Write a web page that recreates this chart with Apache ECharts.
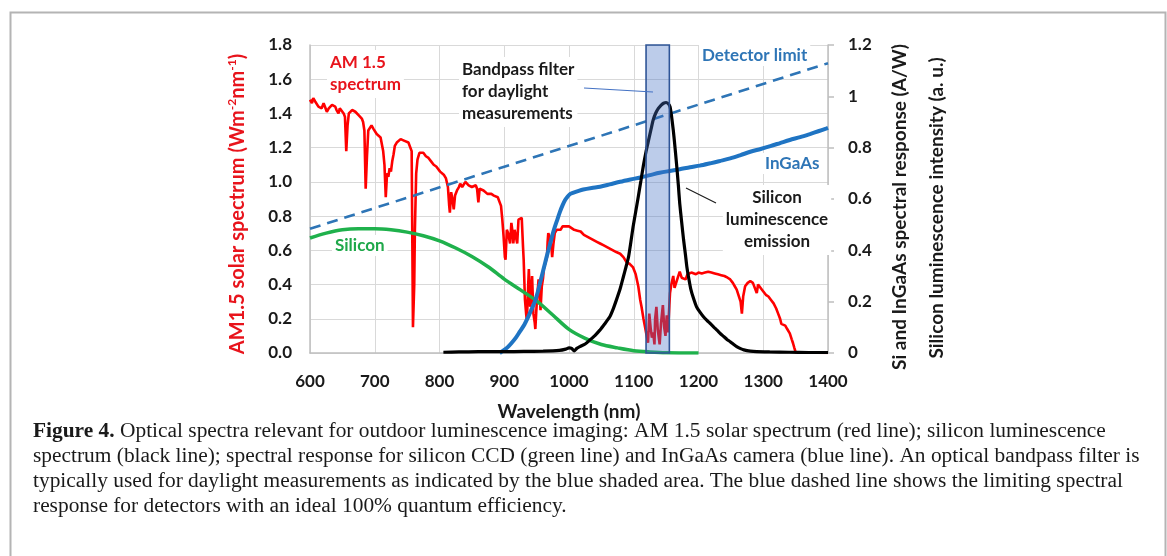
<!DOCTYPE html>
<html>
<head>
<meta charset="utf-8">
<script src="https://cdn.jsdelivr.net/npm/echarts@6/dist/echarts.min.js"></script>
<style>
html,body{margin:0;padding:0;background:#fff;}
#c{width:1167px;height:556px;}
</style>
</head>
<body>
<div id="c"></div>
<script>
// ---- data ----
const xTicks = [600, 700, 800, 900, 1000, 1100, 1200, 1300, 1400];
const leftTicks = [0, 0.2, 0.4, 0.6, 0.8, 1.0, 1.2, 1.4, 1.6, 1.8];
const rightTicks = [0, 0.2, 0.4, 0.6, 0.8, 1, 1.2];

// AM 1.5 solar spectrum (W m-2 nm-1), left axis
const am15 = [[600,1.48],[603,1.46],[605,1.49],[608,1.47],[610,1.47],[613,1.44],[615,1.45],[618,1.43],[621,1.46],[624,1.43],[626,1.41],[629,1.43],[631,1.42],[634,1.45],[636,1.46],[639,1.44],[641,1.42],[644,1.40],[646,1.43],[649,1.42],[652,1.40],[654,1.38],[656,1.18],[658,1.33],[660,1.40],[663,1.41],[665,1.42],[667,1.43],[670,1.41],[672,1.40],[675,1.39],[677,1.39],[680,1.37],[682,1.35],[684,1.30],[686,0.96],[688,1.15],[690,1.30],[693,1.31],[695,1.33],[698,1.31],[700,1.30],[703,1.28],[706,1.28],[709,1.26],[711,1.25],[713,1.18],[715,1.10],[717,0.91],[719,1.05],[721,1.03],[723,1.08],[725,1.06],[727,1.12],[729,1.16],[731,1.21],[734,1.23],[737,1.24],[740,1.25],[743,1.25],[746,1.24],[749,1.23],[752,1.23],[755,1.22],[757,1.18],[759,0.15],[761,0.40],[762,0.72],[764,1.05],[766,1.13],[769,1.17],[772,1.18],[775,1.17],[779,1.15],[783,1.14],[787,1.12],[791,1.10],[795,1.09],[798,1.08],[801,1.06],[804,1.05],[807,1.04],[810,1.02],[813,0.97],[815,0.86],[816,0.82],[818,0.94],[820,0.90],[822,0.84],[824,0.92],[827,0.95],[830,0.97],[832,0.99],[835,0.97],[837,0.98],[840,1.00],[842,1.00],[845,0.98],[847,0.99],[850,0.97],[853,0.98],[856,0.98],[858,0.96],[860,0.88],[862,0.96],[865,0.95],[868,0.95],[871,0.94],[874,0.93],[877,0.94],[880,0.93],[884,0.92],[887,0.92],[890,0.91],[893,0.90],[895,0.86],[897,0.78],[899,0.68],[901,0.56],[902,0.545],[904,0.72],[906,0.70],[909,0.64],[911,0.76],[913,0.70],[914,0.64],[916,0.72],[918,0.68],[920,0.64],[922,0.78],[924,0.79],[927,0.79],[929,0.62],[930,0.545],[932,0.31],[934,0.22],[935,0.19],[937,0.40],[938,0.49],[940,0.27],[942,0.38],[943,0.45],[945,0.23],[947,0.18],[948,0.14],[950,0.28],[951,0.33],[953,0.43],[955,0.33],[956,0.25],[958,0.39],[960,0.44],[961,0.49],[963,0.52],[966,0.56],[967,0.65],[968,0.70],[970,0.68],[971,0.66],[973,0.61],[974,0.56],[976,0.64],[978,0.70],[981,0.72],[984,0.71],[987,0.72],[990,0.74],[993,0.75],[996,0.74],[1000,0.74],[1003,0.73],[1008,0.72],[1013,0.715],[1018,0.71],[1023,0.69],[1028,0.68],[1033,0.67],[1038,0.66],[1043,0.65],[1048,0.64],[1053,0.63],[1058,0.62],[1063,0.61],[1068,0.60],[1073,0.59],[1079,0.58],[1084,0.56],[1089,0.53],[1094,0.52],[1099,0.50],[1103,0.46],[1107,0.39],[1110,0.31],[1112,0.27],[1115,0.20],[1117,0.16],[1120,0.10],[1122,0.06],[1124,0.23],[1126,0.15],[1128,0.09],[1130,0.12],[1132,0.05],[1133,0.20],[1135,0.27],[1137,0.14],[1140,0.05],[1142,0.17],[1145,0.28],[1147,0.15],[1149,0.10],[1151,0.22],[1153,0.12],[1155,0.28],[1156,0.35],[1158,0.40],[1161,0.45],[1163,0.38],[1166,0.39],[1168,0.44],[1171,0.475],[1174,0.44],[1177,0.45],[1180,0.43],[1183,0.46],[1186,0.45],[1189,0.47],[1192,0.47],[1196,0.46],[1200,0.47],[1205,0.465],[1210,0.47],[1215,0.475],[1220,0.47],[1225,0.465],[1230,0.46],[1235,0.455],[1240,0.45],[1245,0.44],[1249,0.43],[1253,0.41],[1256,0.39],[1259,0.37],[1262,0.36],[1265,0.30],[1267,0.23],[1269,0.33],[1272,0.39],[1276,0.41],[1280,0.42],[1284,0.41],[1287,0.41],[1290,0.35],[1292,0.40],[1295,0.39],[1298,0.37],[1300,0.36],[1304,0.34],[1308,0.33],[1312,0.31],[1316,0.29],[1320,0.26],[1323,0.23],[1326,0.20],[1328,0.17],[1331,0.18],[1334,0.16],[1337,0.14],[1341,0.115],[1344,0.08],[1346,0.057],[1348,0.03],[1350,0.005],[1352,0],[1400,0]];

// Silicon CCD spectral response (A/W), right axis
const silicon = [[600,0.448],[625,0.467],[650,0.48],[675,0.484],[700,0.484],[725,0.48],[750,0.471],[775,0.457],[800,0.437],[825,0.409],[850,0.376],[875,0.336],[900,0.288],[925,0.246],[950,0.203],[975,0.148],[1000,0.092],[1025,0.057],[1050,0.033],[1075,0.02],[1100,0.009],[1125,0.004],[1150,0.001],[1200,0]];

// InGaAs camera spectral response (A/W), right axis
const ingaas = [[893,0],[900,0.012],[905,0.022],[911,0.038],[918,0.06],[924,0.083],[931,0.11],[937,0.141],[943,0.175],[948,0.206],[952,0.24],[955,0.27],[959,0.31],[963,0.35],[967,0.39],[971,0.427],[975,0.465],[978,0.49],[982,0.52],[986,0.55],[990,0.575],[994,0.596],[998,0.61],[1002,0.62],[1007,0.625],[1015,0.632],[1022,0.637],[1035,0.643],[1048,0.648],[1063,0.657],[1079,0.667],[1095,0.676],[1110,0.684],[1125,0.693],[1140,0.702],[1155,0.709],[1171,0.716],[1187,0.724],[1202,0.73],[1218,0.739],[1233,0.748],[1249,0.758],[1265,0.771],[1280,0.784],[1296,0.795],[1311,0.806],[1326,0.818],[1341,0.83],[1357,0.841],[1372,0.853],[1385,0.864],[1398,0.875],[1400,0.877]];

// Detector limit (ideal 100% QE), right axis
const detectorLimit = [[600,0.484],[1400,1.129]];

// Silicon luminescence emission (a.u.), right axis
const luminescence = [[806,0.003],[830,0.004],[860,0.005],[900,0.005],[930,0.006],[960,0.007],[985,0.01],[995,0.015],[1000,0.02],[1004,0.018],[1008,0.008],[1012,0.018],[1017,0.025],[1025,0.035],[1032,0.05],[1040,0.068],[1048,0.09],[1055,0.113],[1063,0.141],[1068,0.17],[1073,0.205],[1079,0.25],[1084,0.297],[1088,0.335],[1092,0.375],[1096,0.44],[1099,0.492],[1103,0.55],[1107,0.609],[1111,0.67],[1115,0.732],[1119,0.785],[1123,0.83],[1127,0.875],[1130,0.908],[1134,0.935],[1138,0.953],[1142,0.965],[1146,0.973],[1150,0.976],[1153,0.972],[1156,0.96],[1158,0.93],[1161,0.869],[1163,0.82],[1166,0.739],[1169,0.65],[1171,0.583],[1174,0.51],[1177,0.44],[1180,0.38],[1182,0.336],[1185,0.29],[1188,0.25],[1192,0.215],[1197,0.18],[1202,0.16],[1208,0.14],[1213,0.127],[1218,0.115],[1224,0.1],[1229,0.088],[1234,0.075],[1239,0.064],[1244,0.053],[1249,0.044],[1254,0.034],[1259,0.025],[1265,0.017],[1270,0.012],[1280,0.007],[1290,0.005],[1310,0.004],[1340,0.003],[1370,0.002],[1400,0.002]];

// Bandpass filter (nm range)
const bandpass = [[1119, 1155]];

// ---- chart ----
const chart = echarts.init(document.getElementById('c'), null, {renderer: 'canvas'});
const F = 'Lato, "Open Sans", sans-serif';
const SERIF = '"Liberation Serif", "DejaVu Serif", serif';
const lab = {fontFamily: F, fontWeight: 'bold', fontSize: 17, color: '#1a1a1a'};
const boxed = {backgroundColor: '#fff', padding: [2, 3]};

const capLines = [
  '{b|Figure 4.} Optical spectra relevant for outdoor luminescence imaging: AM 1.5 solar spectrum (red line); silicon luminescence',
  'spectrum (black line); spectral response for silicon CCD (green line) and InGaAs camera (blue line). An optical bandpass filter is',
  'typically used for daylight measurements as indicated by the blue shaded area. The blue dashed line shows the limiting spectral',
  'response for detectors with an ideal 100% quantum efficiency.'
];

const graphics = [
  {type: 'rect', left: 8, top: 10, shape: {width: 1155, height: 570}, style: {fill: 'none', stroke: '#b4b4b4', lineWidth: 2}, silent: true},
  // axis titles
  {type: 'text', x: 238, y: 204, rotation: Math.PI / 2, style: {
    text: 'AM1.5 solar spectrum (Wm{s|-2}nm{s|-1})', font: 'bold 20px ' + F, fill: '#e8141c',
    align: 'center', verticalAlign: 'middle', lineHeight: 24,
    rich: {s: {font: 'bold 12px ' + F, fill: '#e8141c', verticalAlign: 'top', padding: [0, 0, 9, 0]}}}},
  {type: 'text', x: 900, y: 207, rotation: Math.PI / 2, style: {
    text: 'Si and InGaAs spectral response (A/W)', font: 'bold 19px ' + F, fill: '#1a1a1a', align: 'center', verticalAlign: 'middle'}},
  {type: 'text', x: 937, y: 208, rotation: Math.PI / 2, style: {
    text: 'Silicon luminescence intensity (a. u.)', font: 'bold 19px ' + F, fill: '#1a1a1a', align: 'center', verticalAlign: 'middle'}},
  // annotations
  {type: 'text', left: 327, top: 50, z: 20, style: Object.assign({text: 'AM 1.5\nspectrum', fill: '#e8141c', font: 'bold 17px ' + F, lineHeight: 22}, boxed)},
  {type: 'text', left: 459, top: 57, z: 20, style: Object.assign({text: 'Bandpass filter\nfor daylight\nmeasurements', fill: '#1a1a1a', font: 'bold 17px ' + F, lineHeight: 22}, boxed)},
  {type: 'line', z: 20, shape: {x1: 584, y1: 88, x2: 653, y2: 92}, style: {stroke: '#4472c4', lineWidth: 1.2}},
  {type: 'text', left: 699, top: 45, z: 20, style: Object.assign({text: 'Detector limit', fill: '#2e75b6', font: 'bold 17px ' + F}, boxed)},
  {type: 'text', left: 762, top: 153, z: 20, style: Object.assign({text: 'InGaAs', fill: '#2e75b6', font: 'bold 17px ' + F}, boxed)},
  {type: 'line', z: 20, shape: {x1: 686, y1: 188, x2: 716, y2: 203}, style: {stroke: '#1a1a1a', lineWidth: 1.2}},
  {type: 'text', x: 777, y: 185, z: 20, style: Object.assign({text: 'Silicon\nluminescence\nemission', fill: '#1a1a1a', font: 'bold 17px ' + F, lineHeight: 22, align: 'center'}, boxed)},
  {type: 'text', left: 332, top: 235, z: 20, style: Object.assign({text: 'Silicon', fill: '#1fa84a', font: 'bold 17px ' + F}, boxed)}
];
capLines.forEach(function (t, i) {
  graphics.push({type: 'text', x: 33, y: 432 + i * 25, scaleX: 1.07,
    style: {text: t, font: '20px ' + SERIF, fill: '#1a1a1a', verticalAlign: 'middle',
      rich: {b: {font: 'bold 20px ' + SERIF, fill: '#1a1a1a'}}}});
});

const option = {
  animation: false,
  backgroundColor: '#fff',
  grid: {left: 310, right: 339, top: 45, bottom: 203, containLabel: false},
  xAxis: {
    type: 'value', min: xTicks[0], max: xTicks[xTicks.length - 1], interval: 100,
    axisLine: {show: true, lineStyle: {color: '#bfbfbf', width: 1.5}},
    axisTick: {show: false},
    splitLine: {show: true, lineStyle: {color: '#d9d9d9', width: 1}},
    axisLabel: Object.assign({margin: 20, formatter: v => String(v)}, lab),
    name: 'Wavelength (nm)', nameLocation: 'middle', nameGap: 49,
    nameTextStyle: {fontFamily: F, fontWeight: 'bold', fontSize: 19, color: '#1a1a1a'}
  },
  yAxis: [{
    type: 'value', position: 'left', min: leftTicks[0], max: leftTicks[leftTicks.length - 1], interval: 0.2,
    axisLine: {show: true, lineStyle: {color: '#bfbfbf', width: 1.5}},
    axisTick: {show: false},
    splitLine: {show: true, lineStyle: {color: '#d9d9d9', width: 1}},
    axisLabel: Object.assign({margin: 18, formatter: v => v.toFixed(1)}, lab)
  }, {
    type: 'value', position: 'right', min: rightTicks[0], max: rightTicks[rightTicks.length - 1], interval: 0.2,
    axisLine: {show: true, lineStyle: {color: '#bfbfbf', width: 1.5}},
    axisTick: {show: true, length: 6, lineStyle: {color: '#bfbfbf', width: 1.5}},
    splitLine: {show: false},
    axisLabel: Object.assign({margin: 20, formatter: v => String(Math.round(v * 10) / 10)}, lab)
  }],
  series: [
    {name: 'AM 1.5', type: 'line', yAxisIndex: 0, data: am15, showSymbol: false, z: 2,
      lineStyle: {color: '#ff0000', width: 2.6}},
    {name: 'Silicon', type: 'line', yAxisIndex: 1, data: silicon, showSymbol: false, smooth: 0.3, z: 3,
      lineStyle: {color: '#1fb14c', width: 3.5}},
    {name: 'Detector limit', type: 'line', yAxisIndex: 1, data: detectorLimit, showSymbol: false, z: 3,
      lineStyle: {color: '#2e75b6', width: 2.6, type: [11, 7]}},
    {name: 'InGaAs', type: 'line', yAxisIndex: 1, data: ingaas, showSymbol: false, smooth: 0.3, z: 4,
      lineStyle: {color: '#1f74c3', width: 4}},
    {name: 'Luminescence', type: 'line', yAxisIndex: 1, data: luminescence, showSymbol: false, smooth: 0.2, z: 5,
      lineStyle: {color: '#000000', width: 3.2}},
    {name: 'Bandpass', type: 'custom', yAxisIndex: 0, data: bandpass, z: 10,
      renderItem: function (params, api) {
        const p0 = api.coord([api.value(0), 1.8]);
        const p1 = api.coord([api.value(1), 0]);
        return {type: 'rect', shape: {x: p0[0], y: p0[1], width: p1[0] - p0[0], height: p1[1] - p0[1]},
          style: {fill: 'rgba(68,114,196,0.36)', stroke: '#2f5597', lineWidth: 1.6}};
      }}
  ],
  graphic: graphics
};
chart.setOption(option);
</script>
</body>
</html>
